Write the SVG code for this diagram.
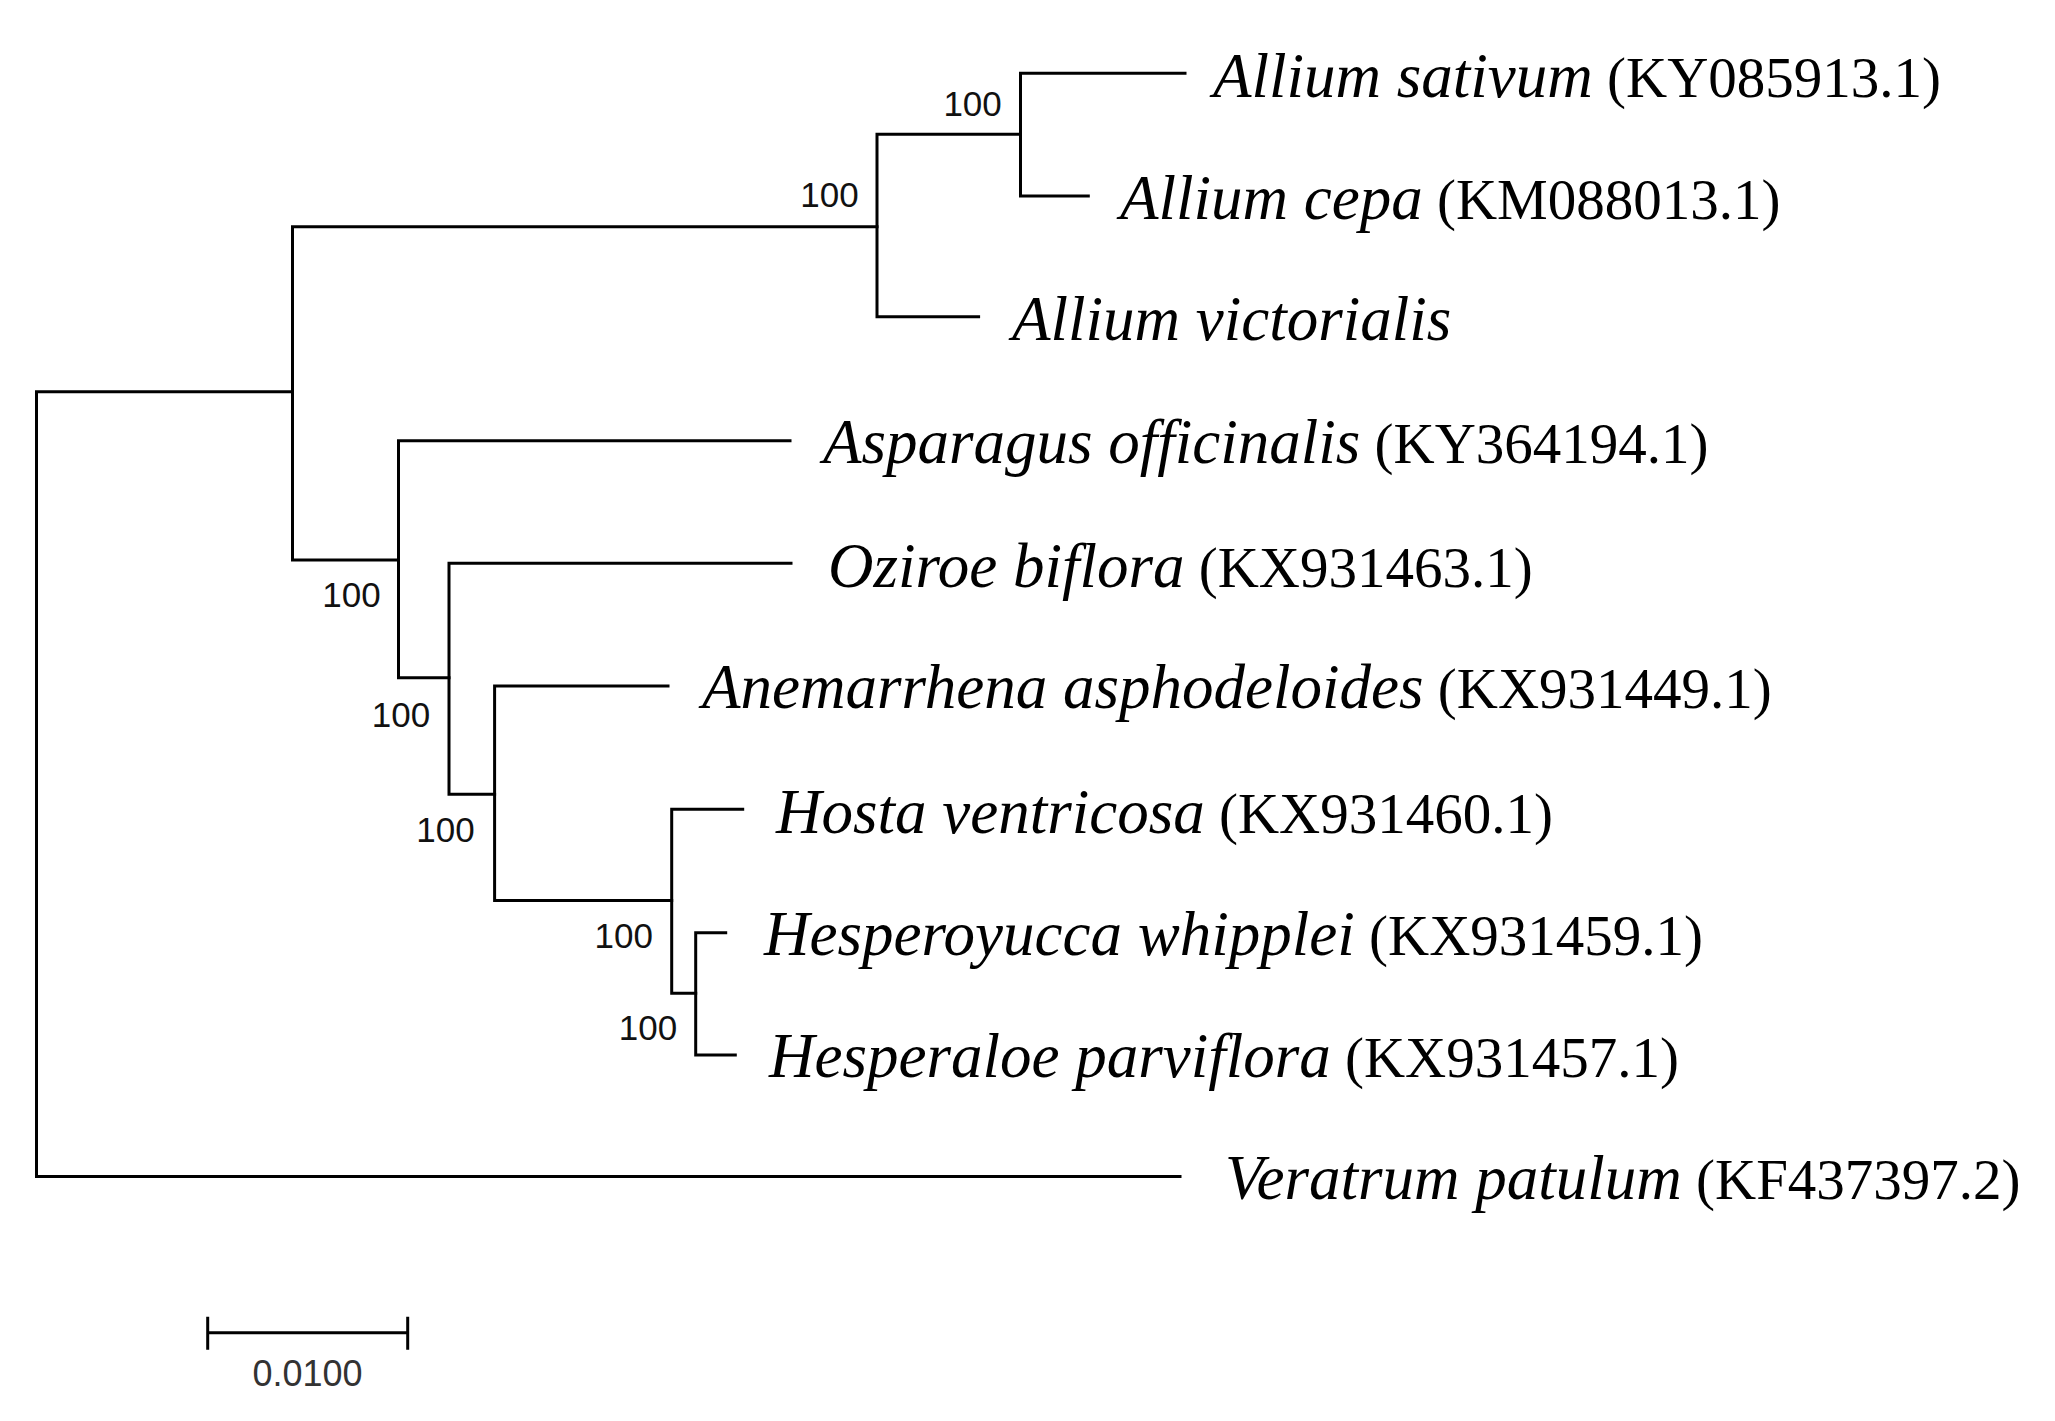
<svg xmlns="http://www.w3.org/2000/svg" width="2055" height="1421" viewBox="0 0 2055 1421">
<style>
.br{fill:none;stroke:#000;stroke-width:3;stroke-linecap:square}
.leaf{font-family:"Liberation Serif","Times New Roman",serif;font-size:57px;fill:#000}
.sp{font-style:italic;font-size:63px}
.bs{font-family:"Liberation Sans",Arial,sans-serif;font-size:35px;fill:#111;text-anchor:middle}
.sc{font-family:"Liberation Sans",Arial,sans-serif;font-size:36px;fill:#333;text-anchor:middle}
</style>
<rect width="2055" height="1421" fill="#fff"/>
<g id="connectors">
<path class="br" d="M292.5,391.7H36.5V1176.5H1180"/>
<path class="br" d="M877,226.7H292.5V560H398.5"/>
<path class="br" d="M1020.5,134.3H877V316.7H978.6"/>
<path class="br" d="M1185,73.3H1020.5V196H1088.3"/>
<path class="br" d="M790,440.7H398.5V677.7H449"/>
<path class="br" d="M791,563.3H449V794.3H494.6"/>
<path class="br" d="M668,686H494.6V900.5H671.7"/>
<path class="br" d="M742.7,809.3H671.7V993.3H695.7"/>
<path class="br" d="M725.7,932.7H695.7V1055H735.3"/>
</g>
<g id="leaf-allium-sativum"><text class="leaf" x="1213" y="96.5"><tspan class="sp">Allium sativum</tspan> (KY085913.1)</text></g>
<g id="leaf-allium-cepa"><text class="leaf" x="1120" y="218.5"><tspan class="sp">Allium cepa</tspan> (KM088013.1)</text></g>
<g id="leaf-allium-victorialis"><text class="leaf" x="1012" y="340"><tspan class="sp">Allium victorialis</tspan></text></g>
<g id="leaf-asparagus"><text class="leaf" x="823" y="463"><tspan class="sp">Asparagus officinalis</tspan> (KY364194.1)</text></g>
<g id="leaf-oziroe"><text class="leaf" x="828" y="586.5"><tspan class="sp">Oziroe biflora</tspan> (KX931463.1)</text></g>
<g id="leaf-anemarrhena"><text class="leaf" x="702" y="708"><tspan class="sp">Anemarrhena asphodeloides</tspan> (KX931449.1)</text></g>
<g id="leaf-hosta"><text class="leaf" x="776" y="833"><tspan class="sp">Hosta ventricosa</tspan> (KX931460.1)</text></g>
<g id="leaf-hesperoyucca"><text class="leaf" x="764" y="955"><tspan class="sp">Hesperoyucca whipplei</tspan> (KX931459.1)</text></g>
<g id="leaf-hesperaloe"><text class="leaf" x="769" y="1077"><tspan class="sp">Hesperaloe parviflora</tspan> (KX931457.1)</text></g>
<g id="leaf-veratrum"><text class="leaf" x="1225" y="1199"><tspan class="sp">Veratrum patulum</tspan> (KF437397.2)</text></g>
<g id="bootstrap">
<text class="bs" x="972.6" y="116">100</text>
<text class="bs" x="829.5" y="206.7">100</text>
<text class="bs" x="351.5" y="607">100</text>
<text class="bs" x="401" y="727">100</text>
<text class="bs" x="445.5" y="841.5">100</text>
<text class="bs" x="623.7" y="948">100</text>
<text class="bs" x="648" y="1040">100</text>
</g>
<g id="scale-bar">
<path class="br" d="M207.7,1332.7H407.7M207.7,1318.3V1348.3M407.7,1318.3V1348.3" stroke-linecap="butt"/>
<text class="sc" x="307.5" y="1386">0.0100</text>
</g>
</svg>
